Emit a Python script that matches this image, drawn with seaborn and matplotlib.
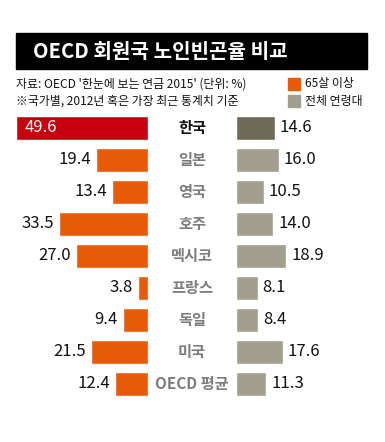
import matplotlib
matplotlib.use("Agg")
import matplotlib.pyplot as plt
import matplotlib.transforms as mtransforms
from matplotlib.patches import Rectangle
import seaborn as sns

countries = ["한국", "일본", "영국", "호주", "멕시코", "프랑스", "독일", "미국", "OECD 평균"]
elderly = [49.6, 19.4, 13.4, 33.5, 27.0, 3.8, 9.4, 21.5, 12.4]
overall = [14.6, 16.0, 10.5, 14.0, 18.9, 8.1, 8.4, 17.6, 11.3]

title = "OECD 회원국 노인빈곤율 비교"
source = "자료: OECD '한눈에 보는 연금 2015' (단위: %)"
note = "※국가별, 2012년 혹은 가장 최근 통계치 기준"
legend_labels = ["65살 이상", "전체 연령대"]

ORANGE = "#E65A08"
RED = "#C8000E"
GRAY = "#A29F8E"
DARK = "#6F6A55"

sns.set_theme(style="white")
plt.rcParams["font.family"] = ["Noto Sans CJK KR", "DejaVu Sans"]

W, H = 385, 442
fig = plt.figure(figsize=(W / 100, H / 100), dpi=100)


def box(x0, y0, x1, y1):
    # pixel box (top-left origin) -> figure fraction rect
    return [x0 / W, 1 - y1 / H, (x1 - x0) / W, (y1 - y0) / H]


xmax = 49.6
ax_l = fig.add_axes(box(16, 112, 148, 400))
ax_r = fig.add_axes(box(236, 112, 368, 400))

left_colors = [RED] + [ORANGE] * (len(countries) - 1)
right_colors = [DARK] + [GRAY] * (len(countries) - 1)

sns.barplot(x=elderly, y=countries, hue=countries, palette=left_colors,
            legend=False, width=0.72, saturation=1, ax=ax_l)
sns.barplot(x=overall, y=countries, hue=countries, palette=right_colors,
            legend=False, width=0.72, saturation=1, ax=ax_r)

ax_l.set_xlim(xmax, 0)
ax_r.set_xlim(0, xmax)
for ax in (ax_l, ax_r):
    ax.set_ylim(len(countries) - 0.5, -0.5)
    ax.axis("off")

fs = 12
off = 1.9
for i, (a, b) in enumerate(zip(elderly, overall)):
    if i == 0:
        ax_l.text(xmax - 3.4, i, f"{a:.1f}", ha="left", va="center",
                  color="white", fontsize=fs)
    else:
        ax_l.text(a + off, i, f"{a:.1f}", ha="right", va="center",
                  color="#111111", fontsize=fs)
    ax_r.text(b + off, i, f"{b:.1f}", ha="left", va="center",
              color="#111111", fontsize=fs)

trans = mtransforms.blended_transform_factory(fig.transFigure, ax_l.transData)
for i, c in enumerate(countries):
    ax_l.text(192 / W, i, c, transform=trans, ha="center", va="center",
              fontsize=11, fontweight="bold",
              color="#111111" if i == 0 else "#7C7C7C", clip_on=False)

# title bar
fig.patches.append(Rectangle((16 / W, 1 - 69 / H), (367 - 16) / W, 36 / H,
                             transform=fig.transFigure, color="black", zorder=0))
fig.text(33 / W, 1 - 51 / H, title, color="white", fontsize=14.5,
         fontweight="bold", va="center", ha="left")

fig.text(16 / W, 1 - 84 / H, source, fontsize=8.6, va="center", color="#111111")
fig.text(16 / W, 1 - 101 / H, note, fontsize=8.6, va="center", color="#111111")

for k, (lab, col) in enumerate(zip(legend_labels, [ORANGE, GRAY])):
    yc = 84 + 17 * k
    fig.patches.append(Rectangle((288 / W, 1 - (yc + 6) / H), 12 / W, 12 / H,
                                 transform=fig.transFigure, color=col))
    fig.text(305 / W, 1 - yc / H, lab, fontsize=8.6, va="center", color="#111111")

fig.savefig("out.png", dpi=100)
